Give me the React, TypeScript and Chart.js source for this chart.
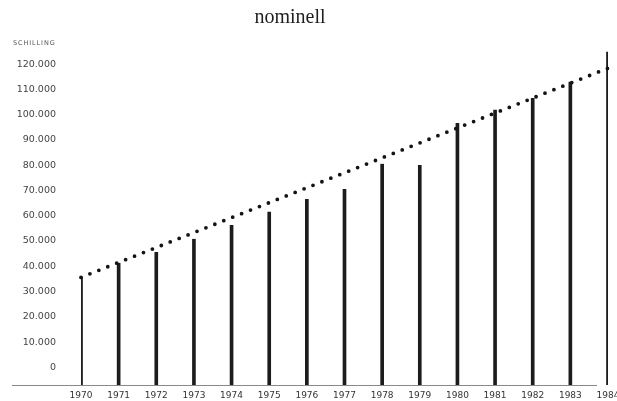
import React, { useEffect, useRef } from "react";
import { Chart, registerables } from "chart.js";

Chart.register(...registerables);

const TITLE = "nominell";
const UNIT = "SCHILLING";
const YEARS = ["1970", "1971", "1972", "1973", "1974", "1975", "1976", "1977", "1978", "1979", "1980", "1981", "1982", "1983", "1984"];
const VALUES = [35800, 41200, 45500, 50700, 56200, 61400, 66500, 70500, 80400, 80000, 96600, 101800, 106500, 112900, 124800];
const TREND_START = 35600;
const TREND_END = 118400;
const Y_TICKS = [0, 10000, 20000, 30000, 40000, 50000, 60000, 70000, 80000, 90000, 100000, 110000, 120000];
const Y_MIN = -7000;
const Y_MAX = 126000;

const fmt = (v: number) => (v === 0 ? "0" : `${Math.floor(v / 1000)}.000`);

const decorations = {
  id: "decorations",
  beforeDatasetsDraw(chart: any) {
    const { ctx, scales } = chart;
    const y = scales.y.getPixelForValue(Y_MIN);
    const x0 = scales.y.left;
    const x1 = scales.x.getPixelForValue(YEARS.length - 1) - 11;
    ctx.save();
    ctx.strokeStyle = "#8a8a8a";
    ctx.lineWidth = 1;
    ctx.beginPath();
    ctx.moveTo(x0, Math.round(y) + 0.5);
    ctx.lineTo(x1, Math.round(y) + 0.5);
    ctx.stroke();
    ctx.restore();
  },
  afterDraw(chart: any) {
    const { ctx, scales } = chart;
    ctx.save();
    ctx.fillStyle = "#1e1e1e";
    ctx.font = "20px 'Liberation Serif', serif";
    ctx.textAlign = "center";
    ctx.textBaseline = "middle";
    ctx.fillText(TITLE, chart.width * 0.47, 18);
    ctx.fillStyle = "#555";
    ctx.font = "6.5px 'DejaVu Sans', sans-serif";
    (ctx as any).letterSpacing = "0.9px";
    ctx.textAlign = "left";
    ctx.fillText(UNIT, scales.y.left + 1, 43);
    ctx.restore();
  },
};

export default function App() {
  const ref = useRef<HTMLCanvasElement | null>(null);
  useEffect(() => {
    if (!ref.current) return;
    const trend = YEARS.map((_, i) => (i === 0 ? TREND_START : i === YEARS.length - 1 ? TREND_END : null));
    const chart = new Chart(ref.current, {
      type: "bar",
      data: {
        labels: YEARS,
        datasets: [
          {
            type: "line",
            data: trend,
            spanGaps: true,
            borderColor: "#141414",
            borderWidth: 3.8,
            borderDash: [0, 9.6],
            borderCapStyle: "round",
            pointRadius: 0,
            order: 0,
            clip: false,
          } as any,
          {
            type: "bar",
            data: VALUES,
            base: Y_MIN,
            backgroundColor: "#1c1c1c",
            barThickness: 3,
            order: 1,
          } as any,
        ],
      },
      options: {
        responsive: false,
        animation: false,
        layout: { padding: { left: 12, right: 9, top: 49, bottom: 0 } },
        plugins: {
          legend: { display: false },
          tooltip: { enabled: false },
          title: { display: false },
        },
        scales: {
          x: {
            offset: false,
            grid: { display: false, drawTicks: false },
            border: { display: false },
            ticks: {
              color: "#333",
              padding: 5,
              maxRotation: 0,
              autoSkip: false,
              font: { family: "'DejaVu Sans', sans-serif", size: 9 },
            },
            afterFit(scale: any) {
              scale.paddingLeft = 0;
              scale.paddingRight = 0;
              scale.height = 16;
            },
          },
          y: {
            min: Y_MIN,
            max: Y_MAX,
            grid: { display: false, drawTicks: false },
            border: { display: false },
            ticks: {
              color: "#444",
              padding: 25,
              font: { family: "'DejaVu Sans', sans-serif", size: 9.5 },
              callback: (v: any) => fmt(Number(v)),
            },
            afterBuildTicks(scale: any) {
              scale.ticks = Y_TICKS.map((v) => ({ value: v }));
            },
            afterFit(scale: any) {
              scale.width = 69;
              scale.paddingTop = 0;
              scale.paddingBottom = 0;
            },
          },
        },
      },
      plugins: [decorations],
    });
    return () => chart.destroy();
  }, []);
  return (
    <div style={{ position: "absolute", left: 0, top: 0, width: 617, height: 401, background: "#fff" }}>
      <canvas ref={ref} width={617} height={401} />
    </div>
  );
}
